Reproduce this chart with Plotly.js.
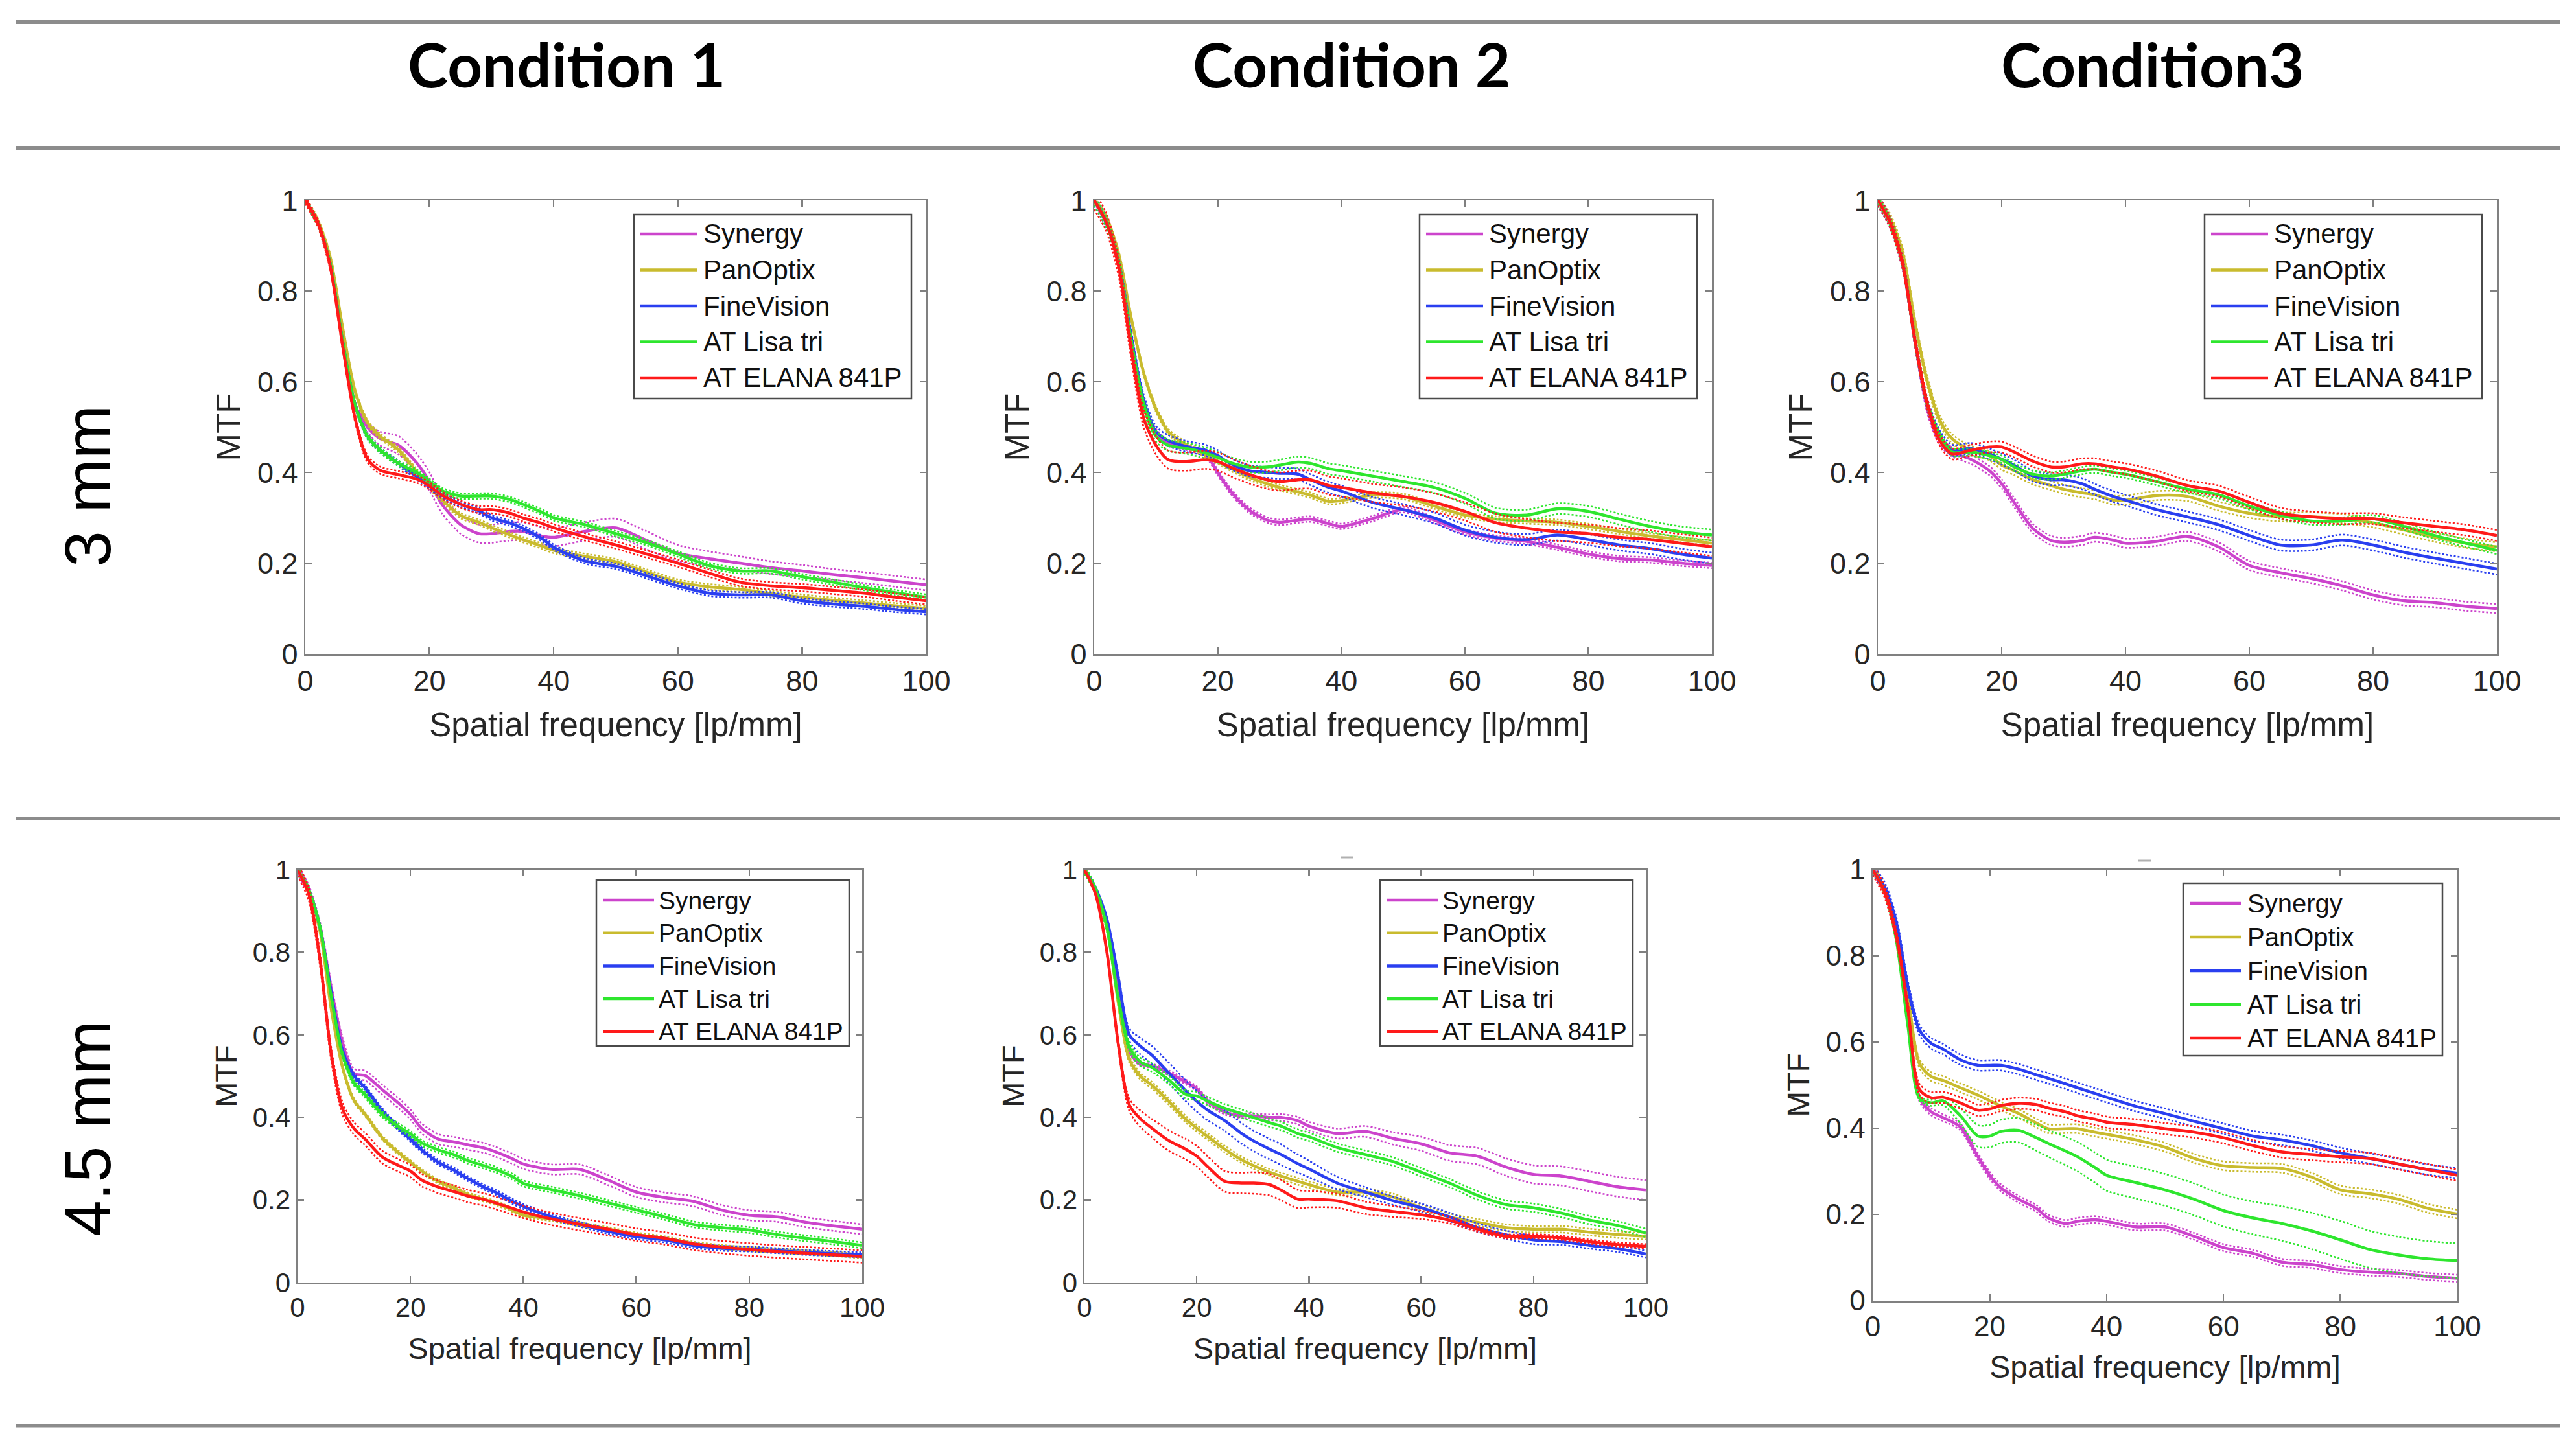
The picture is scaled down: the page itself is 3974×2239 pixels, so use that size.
<!DOCTYPE html>
<html><head><meta charset="utf-8">
<script src="https://cdn.plot.ly/plotly-3.0.1.min.js"></script>
<style>html,body{margin:0;padding:0;background:#fff;}#chart{width:3974px;height:2239px;}</style>
</head><body><div id="chart"></div>
<script>
// ---------------- DATA ----------------
const freq = [0,2,4,6,8,10,12,15,18,20,22,25,28,30,33,35,38,40,45,50,55,60,65,70,75,80,85,90,95,100];
const seriesNames = ['Synergy','PanOptix','FineVision','AT Lisa tri','AT ELANA 841P'];
const conditionLabels = ['Condition 1','Condition 2','Condition3'];
const pupilLabels = ['3 mm','4.5 mm'];
const xTickVals = [0,20,40,60,80,100];
const xTickText = ['0','20','40','60','80','100'];
const yTickVals = [0,0.2,0.4,0.6,0.8,1];
const yTickText = ['0','0.2','0.4','0.6','0.8','1'];
const xTitle = 'Spatial frequency [lp/mm]';
const yTitle = 'MTF';

// Condition 1, 3 mm
const c1_3_synergy = [1,0.95,0.86,0.69,0.55,0.50,0.475,0.46,0.42,0.38,0.33,0.285,0.265,0.265,0.27,0.27,0.26,0.257,0.27,0.278,0.25,0.222,0.21,0.20,0.19,0.183,0.175,0.168,0.16,0.152];
const c1_3_panoptix = [1,0.955,0.875,0.72,0.58,0.51,0.48,0.45,0.40,0.37,0.34,0.305,0.29,0.278,0.262,0.252,0.238,0.228,0.215,0.203,0.18,0.158,0.148,0.142,0.133,0.125,0.118,0.112,0.106,0.10];
const c1_3_finevision = [1,0.95,0.86,0.69,0.55,0.48,0.45,0.42,0.39,0.37,0.35,0.33,0.315,0.30,0.288,0.277,0.255,0.235,0.205,0.193,0.172,0.15,0.134,0.13,0.13,0.117,0.11,0.105,0.098,0.093];
const c1_3_lisa = [1,0.95,0.86,0.69,0.55,0.48,0.45,0.42,0.40,0.38,0.36,0.348,0.348,0.348,0.34,0.33,0.313,0.30,0.285,0.265,0.245,0.22,0.195,0.183,0.183,0.17,0.158,0.146,0.135,0.125];
const c1_3_elana = [1,0.95,0.855,0.68,0.52,0.43,0.405,0.395,0.385,0.37,0.35,0.33,0.318,0.318,0.31,0.30,0.288,0.278,0.258,0.24,0.22,0.20,0.178,0.158,0.15,0.146,0.14,0.134,0.125,0.117];
const c1_3_synergy_ci = [0,0,0,0.003,0.006,0.01,0.015,0.02,0.02,0.02,0.02,0.02,0.02,0.02,0.02,0.02,0.02,0.02,0.02,0.02,0.02,0.018,0.016,0.015,0.014,0.013,0.012,0.012,0.012,0.012];
const c1_3_ci = [c1_3_synergy_ci, 0.006, 0.006, 0.006, 0.008];

// Condition 2, 3 mm
const c2_3_synergy = [1,0.95,0.86,0.69,0.55,0.49,0.465,0.455,0.44,0.40,0.36,0.318,0.295,0.29,0.295,0.297,0.287,0.281,0.298,0.318,0.295,0.269,0.255,0.248,0.235,0.22,0.21,0.207,0.2,0.195];
const c2_3_panoptix = [1,0.96,0.88,0.74,0.62,0.54,0.49,0.46,0.44,0.425,0.41,0.39,0.375,0.367,0.357,0.35,0.336,0.338,0.35,0.347,0.326,0.306,0.297,0.293,0.29,0.281,0.27,0.26,0.252,0.244];
const c2_3_finevision = [1,0.95,0.86,0.70,0.56,0.49,0.47,0.457,0.449,0.437,0.42,0.404,0.40,0.398,0.396,0.384,0.367,0.359,0.334,0.318,0.30,0.273,0.257,0.252,0.262,0.252,0.24,0.232,0.22,0.211];
const c2_3_lisa = [1,0.95,0.86,0.69,0.55,0.48,0.46,0.453,0.443,0.433,0.422,0.412,0.412,0.416,0.423,0.42,0.408,0.404,0.392,0.38,0.367,0.343,0.31,0.306,0.32,0.314,0.297,0.281,0.269,0.262];
const c2_3_elana = [1,0.95,0.85,0.67,0.52,0.46,0.428,0.424,0.428,0.424,0.412,0.396,0.384,0.38,0.384,0.384,0.371,0.367,0.355,0.347,0.334,0.314,0.289,0.277,0.269,0.265,0.257,0.252,0.244,0.236];
const c2_3_ci = [0.006, 0.006, 0.012, 0.012, 0.02];

// Condition 3, 3 mm
const c3_3_synergy = [1,0.95,0.86,0.69,0.54,0.47,0.445,0.429,0.404,0.375,0.334,0.277,0.25,0.246,0.25,0.257,0.251,0.244,0.248,0.259,0.236,0.195,0.179,0.166,0.15,0.13,0.117,0.113,0.105,0.10];
const c3_3_panoptix = [1,0.96,0.885,0.73,0.6,0.515,0.474,0.449,0.437,0.416,0.404,0.384,0.371,0.363,0.355,0.351,0.339,0.339,0.349,0.347,0.326,0.31,0.302,0.302,0.298,0.289,0.273,0.257,0.244,0.236];
const c3_3_finevision = [1,0.95,0.86,0.69,0.55,0.48,0.449,0.453,0.441,0.429,0.416,0.392,0.384,0.384,0.375,0.363,0.347,0.339,0.318,0.302,0.285,0.261,0.24,0.24,0.251,0.24,0.224,0.211,0.199,0.187];
const c3_3_lisa = [1,0.95,0.86,0.69,0.55,0.48,0.445,0.445,0.437,0.429,0.412,0.396,0.392,0.396,0.404,0.407,0.40,0.396,0.38,0.363,0.351,0.326,0.306,0.293,0.293,0.298,0.281,0.261,0.244,0.228];
const c3_3_elana = [1,0.95,0.86,0.69,0.55,0.47,0.441,0.449,0.456,0.456,0.445,0.425,0.412,0.412,0.419,0.419,0.412,0.408,0.392,0.371,0.359,0.334,0.31,0.302,0.298,0.298,0.289,0.281,0.273,0.261];
const c3_3_ci = [0.01, 0.01, 0.012, 0.008, 0.012];

// Condition 1, 4.5 mm
const c1_45_synergy = [1,0.95,0.86,0.71,0.58,0.506,0.501,0.467,0.433,0.407,0.373,0.347,0.34,0.334,0.326,0.317,0.30,0.287,0.274,0.274,0.248,0.219,0.206,0.197,0.176,0.163,0.159,0.146,0.137,0.129];
const c1_45_panoptix = [1,0.95,0.85,0.66,0.52,0.441,0.407,0.351,0.313,0.291,0.27,0.244,0.227,0.214,0.201,0.193,0.176,0.163,0.154,0.141,0.129,0.116,0.107,0.094,0.086,0.081,0.077,0.073,0.069,0.064];
const c1_45_finevision = [1,0.95,0.86,0.70,0.56,0.501,0.471,0.416,0.373,0.347,0.321,0.291,0.27,0.253,0.231,0.219,0.197,0.184,0.159,0.141,0.124,0.111,0.103,0.09,0.083,0.081,0.077,0.073,0.07,0.067];
const c1_45_lisa = [1,0.95,0.86,0.69,0.55,0.484,0.454,0.407,0.377,0.36,0.338,0.321,0.308,0.296,0.283,0.274,0.257,0.24,0.225,0.21,0.193,0.176,0.159,0.141,0.133,0.127,0.116,0.107,0.099,0.09];
const c1_45_elana = [1,0.94,0.78,0.55,0.42,0.373,0.347,0.304,0.283,0.27,0.248,0.231,0.219,0.21,0.201,0.193,0.18,0.171,0.154,0.141,0.129,0.116,0.107,0.094,0.086,0.08,0.075,0.071,0.067,0.063];
const c1_45_ci = [0.012, 0.005, 0.006, 0.007, 0.015];

// Condition 2, 4.5 mm
const c2_45_synergy = [1,0.95,0.87,0.72,0.56,0.529,0.525,0.508,0.486,0.469,0.439,0.413,0.404,0.404,0.40,0.40,0.392,0.379,0.361,0.366,0.349,0.336,0.314,0.306,0.28,0.262,0.258,0.245,0.232,0.224];
const c2_45_panoptix = [1,0.95,0.86,0.68,0.54,0.499,0.478,0.439,0.396,0.374,0.353,0.323,0.297,0.284,0.267,0.258,0.245,0.237,0.219,0.219,0.207,0.181,0.159,0.146,0.133,0.129,0.129,0.122,0.116,0.112];
const c2_45_finevision = [1,0.955,0.88,0.74,0.6,0.572,0.551,0.508,0.465,0.439,0.417,0.392,0.361,0.344,0.323,0.31,0.288,0.275,0.241,0.219,0.198,0.181,0.159,0.133,0.116,0.103,0.099,0.09,0.082,0.069];
const c2_45_lisa = [1,0.95,0.86,0.69,0.57,0.534,0.521,0.491,0.456,0.452,0.439,0.422,0.409,0.40,0.387,0.379,0.361,0.353,0.327,0.31,0.293,0.267,0.241,0.211,0.189,0.181,0.168,0.151,0.138,0.12];
const c2_45_elana = [1,0.94,0.8,0.58,0.43,0.396,0.374,0.344,0.323,0.306,0.28,0.245,0.241,0.241,0.237,0.224,0.202,0.202,0.198,0.181,0.172,0.164,0.151,0.129,0.112,0.112,0.108,0.099,0.092,0.088];
const c2_45_synergy_ci = [0,0,0,0.002,0.004,0.005,0.005,0.006,0.006,0.006,0.006,0.006,0.006,0.006,0.007,0.008,0.009,0.01,0.012,0.013,0.015,0.017,0.019,0.02,0.021,0.022,0.023,0.024,0.024,0.024];
const c2_45_finevision_ci = [0,0,0.004,0.01,0.015,0.02,0.022,0.025,0.025,0.025,0.025,0.025,0.025,0.025,0.025,0.025,0.022,0.02,0.015,0.012,0.01,0.01,0.01,0.01,0.01,0.01,0.008,0.008,0.008,0.008];
const c2_45_elana_ci = [0,0,0.005,0.01,0.015,0.02,0.022,0.025,0.025,0.025,0.025,0.025,0.025,0.026,0.026,0.025,0.022,0.02,0.017,0.015,0.013,0.01,0.008,0.006,0.005,0.005,0.005,0.005,0.005,0.005];
const c2_45_ci = [c2_45_synergy_ci, 0.008, c2_45_finevision_ci, 0.01, c2_45_elana_ci];

// Condition 3, 4.5 mm
const c3_45_synergy = [1,0.95,0.85,0.66,0.47,0.438,0.425,0.403,0.334,0.291,0.261,0.235,0.214,0.192,0.179,0.184,0.188,0.184,0.171,0.171,0.149,0.123,0.11,0.089,0.084,0.072,0.066,0.063,0.056,0.052];
const c3_45_panoptix = [1,0.955,0.87,0.71,0.55,0.52,0.511,0.494,0.477,0.464,0.451,0.434,0.412,0.399,0.399,0.399,0.391,0.386,0.373,0.356,0.33,0.313,0.309,0.307,0.287,0.257,0.248,0.235,0.214,0.201];
const c3_45_finevision = [1,0.96,0.88,0.73,0.628,0.597,0.584,0.559,0.546,0.546,0.546,0.537,0.524,0.516,0.503,0.494,0.481,0.472,0.451,0.434,0.416,0.399,0.382,0.373,0.36,0.343,0.33,0.317,0.304,0.296];
const c3_45_lisa = [1,0.95,0.84,0.64,0.47,0.459,0.464,0.429,0.382,0.382,0.393,0.395,0.378,0.365,0.347,0.334,0.309,0.291,0.274,0.257,0.235,0.209,0.192,0.179,0.162,0.141,0.119,0.106,0.097,0.093];
const c3_45_elana = [1,0.95,0.85,0.68,0.49,0.471,0.472,0.459,0.442,0.445,0.453,0.458,0.455,0.447,0.438,0.429,0.421,0.414,0.408,0.399,0.391,0.378,0.36,0.345,0.339,0.334,0.33,0.317,0.304,0.291];
const c3_45_lisa_ci = [0,0,0,0.003,0.005,0.007,0.01,0.018,0.025,0.026,0.027,0.028,0.03,0.031,0.033,0.034,0.035,0.036,0.037,0.037,0.037,0.037,0.038,0.04,0.042,0.044,0.043,0.042,0.041,0.04];
const c3_45_ci = [0.008, 0.01, 0.012, c3_45_lisa_ci, 0.013];

const panelSeries = [
  [c1_3_synergy, c1_3_panoptix, c1_3_finevision, c1_3_lisa, c1_3_elana],
  [c2_3_synergy, c2_3_panoptix, c2_3_finevision, c2_3_lisa, c2_3_elana],
  [c3_3_synergy, c3_3_panoptix, c3_3_finevision, c3_3_lisa, c3_3_elana],
  [c1_45_synergy, c1_45_panoptix, c1_45_finevision, c1_45_lisa, c1_45_elana],
  [c2_45_synergy, c2_45_panoptix, c2_45_finevision, c2_45_lisa, c2_45_elana],
  [c3_45_synergy, c3_45_panoptix, c3_45_finevision, c3_45_lisa, c3_45_elana]
];
const panelCI = [c1_3_ci, c2_3_ci, c3_3_ci, c1_45_ci, c2_45_ci, c3_45_ci];

// ---------------- STYLE / LAYOUT ----------------
const W = 3974, H = 2239;
const seriesColors = ['#cc44cc', '#c9bb2e', '#2a3ff0', '#2ee62e', '#ff1a1a'];
const FONT = 'Liberation Sans, Arial, sans-serif';
const TXT = '#262626';
// panel boxes in pixels: [left, top, right, bottom]
const boxes = [
  [471, 309, 1429, 1009],
  [1688, 309, 2641, 1009],
  [2897, 309, 3852, 1009],
  [459, 1342, 1330, 1979],
  [1673, 1342, 2539, 1979],
  [2889, 1342, 3791, 2007]
];
const panelStyle = [
  {tick: 45, title: 51, xs: 26, ys: 10, leg: {dr: 23, dt: 22, w: 428, h: 284, r0: 30, step: 55.5, lx: 10, ll: 88, tx: 105, fs: 42}},
  {tick: 45, title: 51, xs: 26, ys: 10, leg: {dr: 23, dt: 22, w: 428, h: 284, r0: 30, step: 55.5, lx: 10, ll: 88, tx: 105, fs: 42}},
  {tick: 45, title: 51, xs: 26, ys: 10, leg: {dr: 23, dt: 22, w: 428, h: 284, r0: 30, step: 55.5, lx: 10, ll: 88, tx: 105, fs: 42}},
  {tick: 42, title: 47, xs: 24, ys: 10, leg: {dr: 20, dt: 16, w: 390, h: 256, r0: 31, step: 50.7, lx: 10, ll: 79, tx: 94, fs: 39}},
  {tick: 42, title: 47, xs: 24, ys: 10, leg: {dr: 20, dt: 16, w: 390, h: 256, r0: 31, step: 50.7, lx: 10, ll: 79, tx: 94, fs: 39}},
  {tick: 44, title: 48, xs: 22, ys: 10, leg: {dr: 23, dt: 21, w: 400, h: 266, r0: 31, step: 52, lx: 10, ll: 79, tx: 97, fs: 40}}
];
const px = v => v / W;
const py = v => 1 - v / H;

const traces = [];
const shapes = [];
const annotations = [];
const layout = {
  width: W, height: H, autosize: false,
  margin: {l: 0, r: 0, t: 0, b: 0},
  paper_bgcolor: '#ffffff', plot_bgcolor: '#ffffff',
  showlegend: false,
  font: {family: FONT, color: TXT}
};

const ciAt = (ci, i) => Array.isArray(ci) ? ci[i] : ci;

panelSeries.forEach((series, p) => {
  const suf = p === 0 ? '' : String(p + 1);
  const xa = 'x' + suf, ya = 'y' + suf;
  const [l, t, r, b] = boxes[p];
  const st = panelStyle[p];
  series.forEach((vals, s) => {
    const ci = panelCI[p][s];
    const lo = vals.map((v, i) => v - ciAt(ci, i));
    const hi = vals.map((v, i) => v + ciAt(ci, i));
    [lo, hi].forEach(arr => traces.push({
      type: 'scatter', mode: 'lines', x: freq, y: arr, xaxis: xa, yaxis: ya,
      line: {color: seriesColors[s], width: 2.6, dash: 'dot', shape: 'spline', smoothing: 0.8},
      hoverinfo: 'skip', showlegend: false
    }));
    traces.push({
      type: 'scatter', mode: 'lines', x: freq, y: vals, xaxis: xa, yaxis: ya, name: seriesNames[s],
      line: {color: seriesColors[s], width: 4.5, shape: 'spline', smoothing: 0.8},
      showlegend: false
    });
  });
  const common = {
    showline: true, mirror: 'ticks', linecolor: '#808080', linewidth: 2.5,
    ticks: 'inside', ticklen: 10, tickwidth: 2.5, tickcolor: '#808080',
    showgrid: false, zeroline: false,
    tickfont: {family: FONT, size: st.tick, color: TXT}
  };
  layout['xaxis' + suf] = Object.assign({}, common, {
    domain: [px(l), px(r)], anchor: ya, range: [0, 100],
    tickmode: 'array', tickvals: xTickVals, ticktext: xTickText,
    title: {text: xTitle, font: {family: FONT, size: st.title, color: TXT}, standoff: st.xs}
  });
  layout['yaxis' + suf] = Object.assign({}, common, {
    domain: [py(b), py(t)], anchor: xa, range: [0, 1],
    tickmode: 'array', tickvals: yTickVals, ticktext: yTickText,
    title: {text: yTitle, font: {family: FONT, size: st.title, color: TXT}, standoff: st.ys}
  });
  // legend box drawn inside the axes
  const g = st.leg;
  const bx1 = r - g.dr, bx0 = bx1 - g.w, by0 = t + g.dt, by1 = by0 + g.h;
  shapes.push({type: 'rect', xref: 'paper', yref: 'paper', x0: px(bx0), x1: px(bx1), y0: py(by1), y1: py(by0),
    line: {color: '#4a4a4a', width: 2.5}, fillcolor: '#ffffff', layer: 'above'});
  seriesNames.forEach((nm, s) => {
    const yy = by0 + g.r0 + s * g.step;
    shapes.push({type: 'line', xref: 'paper', yref: 'paper', x0: px(bx0 + g.lx), x1: px(bx0 + g.lx + g.ll), y0: py(yy), y1: py(yy),
      line: {color: seriesColors[s], width: 4.5}, layer: 'above'});
    annotations.push({xref: 'paper', yref: 'paper', x: px(bx0 + g.tx), y: py(yy), xanchor: 'left', yanchor: 'middle',
      text: nm, showarrow: false, font: {family: FONT, size: g.fs, color: '#111111'}});
  });
});

// table rules
[[34, 6], [228, 6], [1263, 5], [2200, 5]].forEach(([y, w]) => shapes.push({
  type: 'line', xref: 'paper', yref: 'paper', x0: px(25), x1: px(3950), y0: py(y), y1: py(y),
  line: {color: '#8c8c8c', width: w}
}));
// tiny stray marks above two lower panels
[[2068, 2088, 1323], [3298, 3318, 1328]].forEach(([a, c, y]) => shapes.push({
  type: 'line', xref: 'paper', yref: 'paper', x0: px(a), x1: px(c), y0: py(y), y1: py(y),
  line: {color: '#b0b0b0', width: 3}
}));

// column headers
const headerX = [874, 2085, 3320];
conditionLabels.forEach((txt, i) => annotations.push({
  xref: 'paper', yref: 'paper', x: px(headerX[i]), y: py(98), xanchor: 'center', yanchor: 'middle',
  text: txt, showarrow: false, font: {family: 'Lato, Open Sans, sans-serif', size: 94, weight: 700, color: '#000000'}
}));
// row headers
const rowY = [750, 1742];
pupilLabels.forEach((txt, i) => annotations.push({
  xref: 'paper', yref: 'paper', x: px(135), y: py(rowY[i]), xanchor: 'center', yanchor: 'middle',
  text: txt, textangle: -90, showarrow: false, font: {family: FONT, size: 100, color: '#000000'}
}));

layout.shapes = shapes;
layout.annotations = annotations;

Plotly.newPlot('chart', traces, layout, {staticPlot: true, displayModeBar: false});
</script></body></html>
